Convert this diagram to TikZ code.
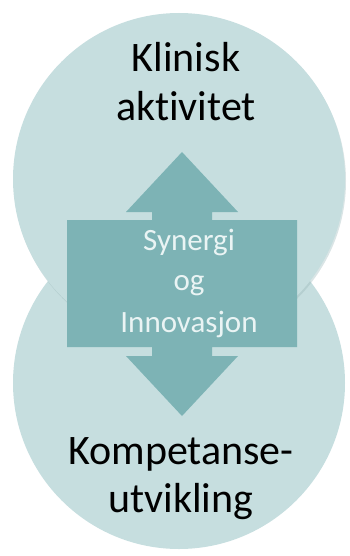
\documentclass[tikz,border=0pt]{standalone}
\usepackage{fontspec}
\setmainfont{Carlito}[Ligatures=NoCommon]
\definecolor{ringfill}{RGB}{198,222,223}
\definecolor{ringshade}{RGB}{150,180,182}
\definecolor{arrowfill}{RGB}{125,179,181}
\definecolor{arrowtext}{RGB}{234,244,244}
\begin{document}
\begin{tikzpicture}[x=1pt,y=-1pt,
  ring/.style={circle, fill=ringfill, minimum size=332pt, inner sep=0pt},
  bigtext/.style={anchor=base, font=\fontsize{42}{50}\selectfont, text=black},
  midtext/.style={anchor=base, font=\fontsize{31}{41}\selectfont, text=arrowtext}]
\useasboundingbox (0,0) rectangle (350,556);
\node[ring] (lower) at (179,383) {};
\fill[ringshade, opacity=0.35] (180,181) circle[radius=166];
\node[ring] (upper) at (179,179) {};
% double arrow with box in the middle
\fill[arrowfill] (182,152)--(238,212)--(212,212)--(212,220)--(297,220)--(297,347)
  --(212,347)--(212,356)--(238,356)--(182,416)--(126,356)--(152,356)--(152,347)
  --(67,347)--(67,220)--(152,220)--(152,212)--(126,212)--cycle;
\node[bigtext] (klinisk) at (186,72) {Klinisk};
\node[bigtext] (aktivitet) at (186,121) {aktivitet};
\node[midtext] (synergi) at (189,250) {Synergi};
\node[midtext] (og) at (189,290) {og};
\node[midtext] (innovasjon) at (189,332) {Innovasjon};
\node[bigtext] (kompetanse) at (181,464) {Kompetanse-};
\node[bigtext] (utvikling) at (181,512) {utvikling};
\end{tikzpicture}
\end{document}
